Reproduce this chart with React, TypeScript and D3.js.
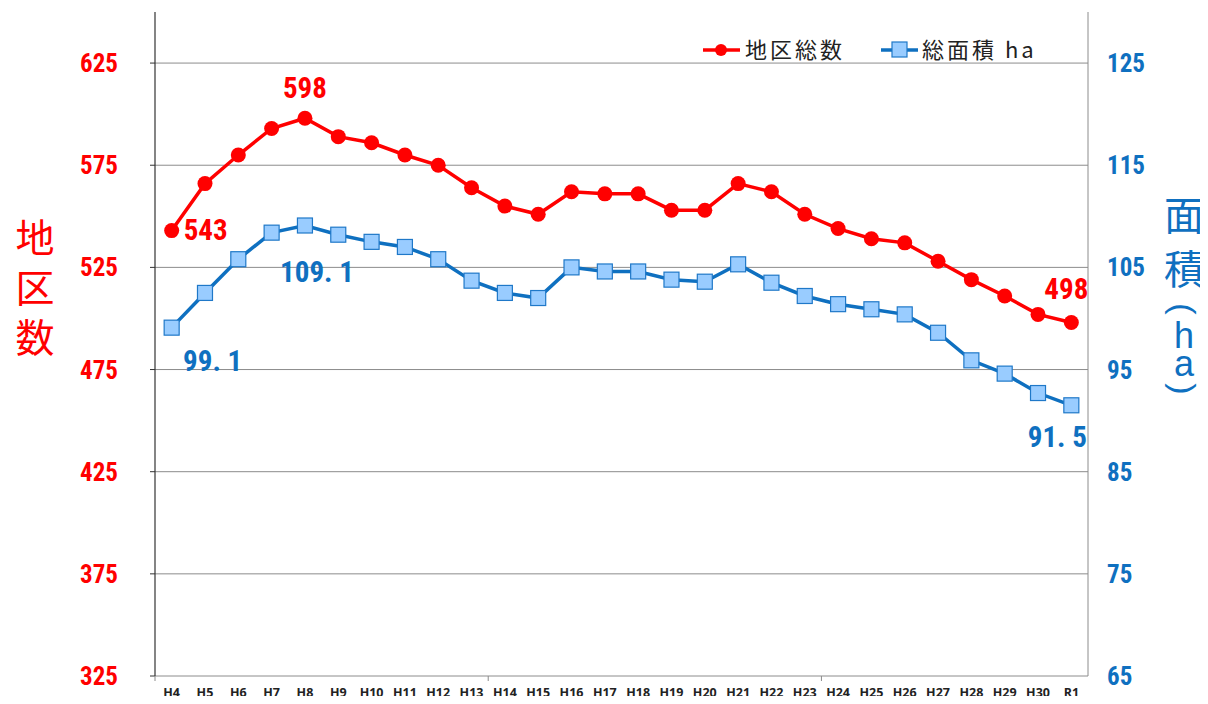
import * as d3 from 'd3';
import { useRef, useEffect } from 'react';

const categories = ['H4', 'H5', 'H6', 'H7', 'H8', 'H9', 'H10', 'H11', 'H12', 'H13', 'H14', 'H15', 'H16', 'H17', 'H18', 'H19', 'H20', 'H21', 'H22', 'H23', 'H24', 'H25', 'H26', 'H27', 'H28', 'H29', 'H30', 'R1'];
const districtCount = [543, 566, 580, 593, 598, 589, 586, 580, 575, 564, 555, 551, 562, 561, 561, 553, 553, 566, 562, 551, 544, 539, 537, 528, 519, 511, 502, 498];
const totalArea = [99.1, 102.5, 105.8, 108.4, 109.1, 108.2, 107.5, 107.0, 105.8, 103.7, 102.5, 102.0, 105.0, 104.6, 104.6, 103.8, 103.6, 105.3, 103.5, 102.2, 101.4, 100.9, 100.4, 98.6, 95.9, 94.6, 92.7, 91.5];
const leftTicks = [325, 375, 425, 475, 525, 575, 625];
const rightTicks = [65, 75, 85, 95, 105, 115, 125];

const RED = '#ff0000';
const BLUE = '#0f70c0';
const NUM_FONT = '"Liberation Sans Narrow", "Roboto Condensed", "Liberation Sans", sans-serif';
const JP_FONT = '"Noto Sans CJK JP", sans-serif';

export default function App() {
  const svgRef = useRef(null);

  useEffect(() => {
    const width = 1208;
    const height = 704;
    const left = 155, right = 1088, top = 12, bottom = 676;

    const svg = d3.select(svgRef.current)
      .attr('width', width)
      .attr('height', height);
    svg.selectAll('*').remove();

    const x = d3.scaleBand().domain(categories).range([left, right]);
    const cx = (c) => x(c) + x.bandwidth() / 2;
    const yL = d3.scaleLinear().domain([325, 650]).range([bottom, top]);
    const yR = d3.scaleLinear().domain([65, 130]).range([bottom, top]);

    // gridlines
    svg.append('g').selectAll('line')
      .data(leftTicks)
      .enter().append('line')
      .attr('x1', left).attr('x2', right)
      .attr('y1', (d) => yL(d)).attr('y2', (d) => yL(d))
      .attr('stroke', '#8c8c8c').attr('stroke-width', 1);

    // axes lines
    svg.append('line').attr('x1', left).attr('x2', left).attr('y1', top).attr('y2', bottom)
      .attr('stroke', '#333').attr('stroke-width', 1.2);
    svg.append('line').attr('x1', right).attr('x2', right).attr('y1', top).attr('y2', bottom)
      .attr('stroke', '#8c8c8c').attr('stroke-width', 1);

    // left ticks
    svg.append('g').selectAll('line')
      .data(leftTicks)
      .enter().append('line')
      .attr('x1', left - 5).attr('x2', left)
      .attr('y1', (d) => yL(d)).attr('y2', (d) => yL(d))
      .attr('stroke', '#333');

    // x ticks every 10 categories
    svg.append('g').selectAll('line')
      .data([0, 10, 20])
      .enter().append('line')
      .attr('x1', (i) => x(categories[i])).attr('x2', (i) => x(categories[i]))
      .attr('y1', bottom).attr('y2', bottom + 5)
      .attr('stroke', '#8c8c8c');

    svg.append('g').selectAll('text')
      .data(leftTicks)
      .enter().append('text')
      .attr('x', 118).attr('y', (d) => yL(d) + 9)
      .attr('text-anchor', 'end')
      .attr('font-family', NUM_FONT).attr('font-weight', 'bold').attr('font-size', 25)
      .attr('fill', RED)
      .text((d) => d);

    svg.append('g').selectAll('text')
      .data(rightTicks)
      .enter().append('text')
      .attr('x', 1107).attr('y', (d) => yR(d) + 9)
      .attr('text-anchor', 'start')
      .attr('font-family', NUM_FONT).attr('font-weight', 'bold').attr('font-size', 25)
      .attr('fill', BLUE)
      .text((d) => d);

    svg.append('g').selectAll('text')
      .data(categories)
      .enter().append('text')
      .attr('x', (d) => cx(d)).attr('y', 697)
      .attr('text-anchor', 'middle')
      .attr('font-family', '"Open Sans", "Liberation Sans", sans-serif').attr('font-weight', 'bold').attr('font-size', 12.5)
      .attr('fill', '#222')
      .text((d) => d);

    // axis titles
    svg.append('g').selectAll('text')
      .data(['地', '区', '数'])
      .enter().append('text')
      .attr('x', 35).attr('y', (d, i) => 252 + i * 50)
      .attr('text-anchor', 'middle')
      .attr('font-family', JP_FONT).attr('font-size', 39)
      .attr('fill', RED)
      .text((d) => d);

    // right title: 面積（ha） stacked vertically, brackets turned sideways
    const rt = svg.append('g').attr('fill', BLUE).attr('font-family', JP_FONT).attr('text-anchor', 'middle');
    rt.append('text').attr('x', 1184).attr('y', 230).attr('font-size', 40).text('面');
    rt.append('text').attr('x', 1184).attr('y', 284).attr('font-size', 40).text('積');
    rt.append('text').attr('transform', 'translate(1184,309) rotate(90)')
      .attr('dominant-baseline', 'central').attr('font-size', 34)
      .attr('font-family', '"Liberation Sans", sans-serif').text('(');
    rt.append('text').attr('x', 1184).attr('y', 348).attr('font-size', 36).attr('font-family', '"Liberation Sans", sans-serif').text('h');
    rt.append('text').attr('x', 1184).attr('y', 376).attr('font-size', 36).attr('font-family', '"Liberation Sans", sans-serif').text('a');
    rt.append('text').attr('transform', 'translate(1184,389) rotate(90)')
      .attr('dominant-baseline', 'central').attr('font-size', 34)
      .attr('font-family', '"Liberation Sans", sans-serif').text(')');

    // lines
    const lineL = d3.line().x((d, i) => cx(categories[i])).y((d) => yL(d));
    const lineR = d3.line().x((d, i) => cx(categories[i])).y((d) => yR(d));

    svg.append('path').datum(totalArea)
      .attr('d', lineR).attr('fill', 'none').attr('stroke', BLUE).attr('stroke-width', 3.5);
    svg.append('g').selectAll('rect')
      .data(totalArea)
      .enter().append('rect')
      .attr('x', (d, i) => cx(categories[i]) - 7.5).attr('y', (d) => yR(d) - 7.5)
      .attr('width', 15).attr('height', 15)
      .attr('fill', '#99ccff').attr('stroke', '#1f78c8').attr('stroke-width', 1.2);

    svg.append('path').datum(districtCount)
      .attr('d', lineL).attr('fill', 'none').attr('stroke', RED).attr('stroke-width', 3.5);
    svg.append('g').selectAll('circle')
      .data(districtCount)
      .enter().append('circle')
      .attr('cx', (d, i) => cx(categories[i])).attr('cy', (d) => yL(d))
      .attr('r', 7.5).attr('fill', RED);

    // data labels
    const labels = [
      { i: 0, v: districtCount[0], dx: 34, dy: 9, color: RED, text: String(districtCount[0]) },
      { i: 4, v: districtCount[4], dx: 0, dy: -20, color: RED, text: String(districtCount[4]) },
      { i: 27, v: districtCount[27], dx: -5, dy: -24, color: RED, text: String(districtCount[27]) },
    ];
    svg.append('g').selectAll('text')
      .data(labels)
      .enter().append('text')
      .attr('x', (d) => cx(categories[d.i]) + d.dx).attr('y', (d) => yL(d.v) + d.dy)
      .attr('text-anchor', 'middle')
      .attr('font-family', NUM_FONT).attr('font-weight', 'bold').attr('font-size', 29)
      .attr('fill', (d) => d.color)
      .text((d) => d.text);

    const areaLabels = [
      { i: 0, dx: 41, dy: 43 },
      { i: 4, dx: 12, dy: 56 },
      { i: 27, dx: -14, dy: 42 },
    ];
    svg.append('g').selectAll('text')
      .data(areaLabels)
      .enter().append('text')
      .attr('x', (d) => cx(categories[d.i]) + d.dx).attr('y', (d) => yR(totalArea[d.i]) + d.dy)
      .attr('text-anchor', 'middle')
      .attr('font-family', NUM_FONT).attr('font-weight', 'bold').attr('font-size', 29)
      .attr('fill', BLUE)
      .text((d) => totalArea[d.i].toFixed(1).replace('.', '. '));

    // legend
    const lg = svg.append('g').attr('font-family', JP_FONT).attr('font-size', 22).attr('fill', '#222').attr('letter-spacing', 3);
    lg.append('line').attr('x1', 703).attr('x2', 740).attr('y1', 50).attr('y2', 50).attr('stroke', RED).attr('stroke-width', 3.5);
    lg.append('circle').attr('cx', 721).attr('cy', 50).attr('r', 6).attr('fill', RED);
    lg.append('text').attr('x', 745).attr('y', 58).text('地区総数');
    lg.append('line').attr('x1', 881).attr('x2', 918).attr('y1', 50).attr('y2', 50).attr('stroke', BLUE).attr('stroke-width', 3.5);
    lg.append('rect').attr('x', 892).attr('y', 42).attr('width', 15).attr('height', 15)
      .attr('fill', '#99ccff').attr('stroke', '#1f78c8').attr('stroke-width', 1.2);
    lg.append('text').attr('x', 922).attr('y', 58).text('総面積 ha');
  }, []);

  return (
    <div style={{ width: 1208, height: 704, margin: -8 }}>
      <svg ref={svgRef} style={{ display: 'block' }}></svg>
    </div>
  );
}
